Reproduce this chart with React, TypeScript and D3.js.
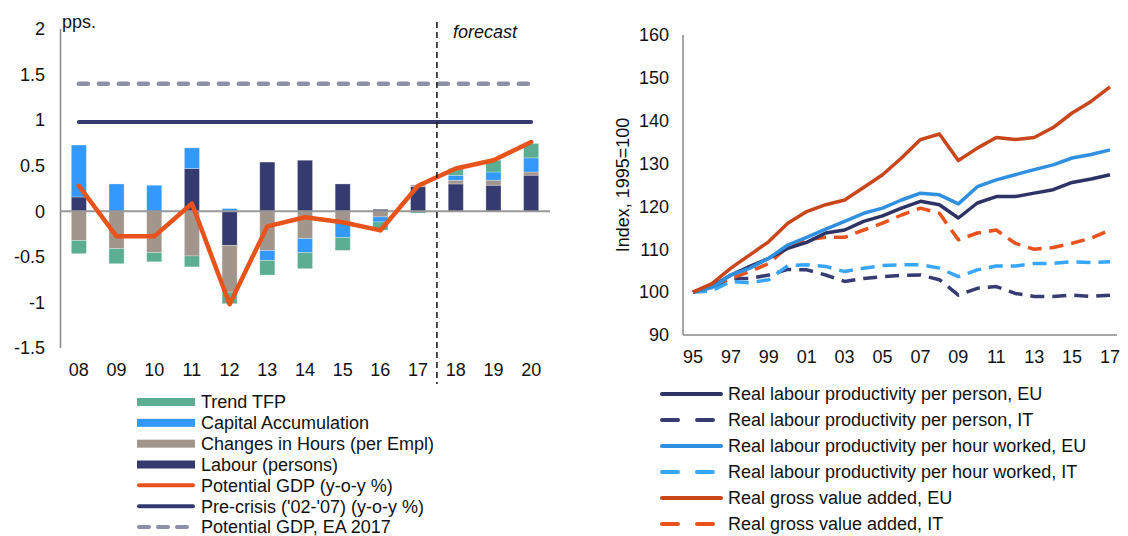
import * as d3 from 'd3'

// ---- left panel: potential growth decomposition (pps.)
const years = ['08', '09', '10', '11', '12', '13', '14', '15', '16', '17', '18', '19', '20']
const trendTFP = [-0.145, -0.165, -0.1, -0.12, -0.127, -0.16, -0.176, -0.14, -0.09, -0.02, 0.074, 0.13, 0.158]
const capitalAcc = [0.57, 0.3, 0.286, 0.226, 0.03, -0.11, -0.154, -0.172, -0.055, 0, 0.055, 0.09, 0.155]
const hoursPerEmpl = [-0.32, -0.41, -0.454, -0.49, -0.513, -0.43, -0.3, -0.117, -0.062, 0.02, 0.04, 0.055, 0.035]
const labourPersons = [0.157, 0, 0, 0.47, -0.374, 0.54, 0.56, 0.3, 0.022, 0.27, 0.3, 0.286, 0.396]
const potentialGDP = [0.28, -0.275, -0.275, 0.085, -1.02, -0.165, -0.065, -0.12, -0.21, 0.28, 0.47, 0.56, 0.76]
const preCrisis = 0.98
const potentialEA2017 = 1.4
const leftTicks = [2, 1.5, 1, 0.5, 0, -0.5, -1, -1.5]

// ---- right panel: index 1995=100
const idxYears = ['95', '96', '97', '98', '99', '00', '01', '02', '03', '04', '05', '06', '07', '08', '09', '10', '11', '12', '13', '14', '15', '16', '17']
const perPersonEU = [100, 101.3, 104, 106, 107.9, 110.2, 111.6, 113.8, 114.5, 116.5, 117.8, 119.6, 121.2, 120.4, 117.3, 120.8, 122.3, 122.3, 123.1, 123.9, 125.6, 126.4, 127.4]
const perPersonIT = [100, 101, 103.2, 103.2, 104, 105.3, 105.2, 104, 102.5, 103.2, 103.6, 103.9, 104, 102.9, 99.3, 100.9, 101.3, 99.7, 99, 99, 99.3, 99, 99.3]
const perHourEU = [100, 101.1, 104, 105.6, 107.9, 111, 112.8, 114.7, 116.5, 118.4, 119.6, 121.5, 123.1, 122.7, 120.6, 124.6, 126.2, 127.4, 128.6, 129.7, 131.3, 132.1, 133.2]
const perHourIT = [100, 100.3, 102.5, 102.2, 102.9, 106.2, 106.4, 106, 104.8, 105.6, 106.2, 106.4, 106.4, 105.6, 103.6, 105.2, 106.1, 106.1, 106.7, 106.7, 107.1, 106.9, 107.1]
const gvaEU = [100, 102, 105.6, 108.7, 111.8, 116.1, 118.8, 120.4, 121.5, 124.4, 127.4, 131.3, 135.6, 136.9, 130.7, 133.6, 136.1, 135.6, 136.1, 138.4, 141.8, 144.5, 147.9]
const gvaIT = [100, 101.7, 103.2, 104.8, 106.7, 110.6, 112.2, 112.8, 112.8, 114.5, 116.1, 118, 119.6, 118.4, 112.2, 113.8, 114.5, 111.4, 110, 110.4, 111.4, 112.6, 114.5]
const rightTicks = [160, 150, 140, 130, 120, 110, 100, 90]

const FONT = '"Liberation Sans", Arial, sans-serif'
const FS = 18

const COL = {
  tfp: '#5BAE92',
  capital: '#3399FF',
  hours: '#A2958C',
  labour: '#363B6F',
  gdp: '#E8531C',
  ea: '#8C8FA8',
}

const barKeys = ['labour', 'hours', 'capital', 'tfp'] as const
const barColor: Record<string, string> = {
  labour: COL.labour,
  hours: COL.hours,
  capital: COL.capital,
  tfp: COL.tfp,
}

function LeftPanel() {
  const x = d3.scaleBand().domain(years).range([60, 550]).paddingInner(0.6).paddingOuter(0.3)
  const xc = (d: string) => x(d)! + x.bandwidth() / 2
  const y = d3.scaleLinear().domain([-1.5, 2]).range([348, 29])

  const rows = years.map((yr, i) => ({
    year: yr,
    labour: labourPersons[i],
    hours: hoursPerEmpl[i],
    capital: capitalAcc[i],
    tfp: trendTFP[i],
  }))
  const series = d3.stack<any>().keys(barKeys as any).offset(d3.stackOffsetDiverging)(rows)

  const gdpLine = d3.line<number>().x((_, i) => xc(years[i])).y(d => y(d))(potentialGDP)
  const splitX = x(years[10])! - (x.step() - x.bandwidth()) / 2

  return (
    <g>
      {leftTicks.map(t => (
        <text key={t} x={45} y={y(t)} dy="0.35em" textAnchor="end" fontSize={FS} fontFamily={FONT} fill="#111">
          {t}
        </text>
      ))}
      <line x1={60.5} x2={60.5} y1={y(2)} y2={y(-1.5)} stroke="#888" strokeWidth={1.5} />
      <text x={62} y={28} fontSize={FS} fontFamily={FONT} fill="#111">pps.</text>

      {series.map(s => (
        <g key={s.key}>
          {s.map((d, i) => (
            <rect
              key={i}
              x={x(years[i])}
              width={x.bandwidth()}
              y={y(Math.max(d[0], d[1]))}
              height={Math.abs(y(d[0]) - y(d[1]))}
              fill={barColor[s.key]}
              stroke="#fff"
              strokeOpacity={0.35}
              strokeWidth={0.8}
            />
          ))}
        </g>
      ))}

      <line x1={60} x2={550} y1={y(0)} y2={y(0)} stroke="#999" strokeWidth={2} />

      <line x1={xc(years[0])} x2={xc(years[12])} y1={y(potentialEA2017)} y2={y(potentialEA2017)}
        stroke={COL.ea} strokeWidth={4.5} strokeDasharray="9,11" strokeLinecap="round" />
      <line x1={xc(years[0])} x2={xc(years[12])} y1={y(preCrisis)} y2={y(preCrisis)}
        stroke={COL.labour} strokeWidth={4} strokeLinecap="round" />

      <path d={gdpLine!} fill="none" stroke={COL.gdp} strokeWidth={4.5} strokeLinejoin="round" strokeLinecap="round" />

      <line x1={splitX} x2={splitX} y1={22} y2={384} stroke="#111" strokeWidth={1.5} strokeDasharray="6,4" />
      <text x={453} y={38} fontSize={FS} fontStyle="italic" fontFamily={FONT} fill="#111">forecast</text>

      {years.map(yr => (
        <text key={yr} x={xc(yr)} y={376} textAnchor="middle" fontSize={FS} fontFamily={FONT} fill="#111">{yr}</text>
      ))}
    </g>
  )
}

const leftLegend = [
  { label: 'Trend TFP', color: COL.tfp, kind: 'rect' },
  { label: 'Capital Accumulation', color: COL.capital, kind: 'rect' },
  { label: 'Changes in Hours (per Empl)', color: COL.hours, kind: 'rect' },
  { label: 'Labour (persons)', color: COL.labour, kind: 'rect' },
  { label: 'Potential GDP (y-o-y %)', color: COL.gdp, kind: 'line' },
  { label: "Pre-crisis ('02-'07) (y-o-y %)", color: COL.labour, kind: 'line' },
  { label: 'Potential GDP, EA 2017', color: COL.ea, kind: 'dash' },
]

function LeftLegend() {
  const rowY = d3.scaleLinear().domain([0, 6]).range([402, 527])
  return (
    <g>
      {leftLegend.map((l, i) => {
        const cy = rowY(i)
        return (
          <g key={l.label}>
            {l.kind === 'rect' && <rect x={137} y={cy - 4} width={58} height={8} fill={l.color} />}
            {l.kind === 'line' && (
              <line x1={139} x2={193} y1={cy} y2={cy} stroke={l.color} strokeWidth={4} strokeLinecap="round" />
            )}
            {l.kind === 'dash' && (
              <line x1={139} x2={193} y1={cy} y2={cy} stroke={l.color} strokeWidth={4} strokeLinecap="round" strokeDasharray="10,9" />
            )}
            <text x={201} y={cy} dy="0.36em" fontSize={FS} fontFamily={FONT} fill="#111">{l.label}</text>
          </g>
        )
      })}
    </g>
  )
}

const rightSeries = [
  { label: 'Real labour productivity per person, EU', values: perPersonEU, color: '#2E3366', dashed: false },
  { label: 'Real labour productivity per person, IT', values: perPersonIT, color: '#363B72', dashed: true },
  { label: 'Real labour productivity per hour worked, EU', values: perHourEU, color: '#2F8FE0', dashed: false },
  { label: 'Real labour productivity per hour worked, IT', values: perHourIT, color: '#38A5FF', dashed: true },
  { label: 'Real gross value added, EU', values: gvaEU, color: '#C8461A', dashed: false },
  { label: 'Real gross value added, IT', values: gvaIT, color: '#E8521C', dashed: true },
]

function RightPanel() {
  const x = d3.scalePoint().domain(idxYears).range([693, 1110])
  const y = d3.scaleLinear().domain([90, 160]).range([335, 35])
  const line = d3.line<number>().x((_, i) => x(idxYears[i])!).y(d => y(d))
  const drawOrder = [1, 3, 5, 0, 2, 4]

  return (
    <g>
      {rightTicks.map(t => (
        <text key={t} x={669} y={y(t)} dy="0.35em" textAnchor="end" fontSize={FS} fontFamily={FONT} fill="#111">{t}</text>
      ))}
      <text transform={`translate(629,${185}) rotate(-90)`} textAnchor="middle" fontSize={FS} fontFamily={FONT} fill="#111">
        Index, 1995=100
      </text>
      <line x1={683} x2={683} y1={y(160)} y2={y(90)} stroke="#888" strokeWidth={1.5} />
      <line x1={683} x2={1117} y1={y(90)} y2={y(90)} stroke="#888" strokeWidth={1.5} />

      {drawOrder.map(i => {
        const s = rightSeries[i]
        return (
          <path key={s.label} d={line(s.values)!} fill="none" stroke={s.color} strokeWidth={3.5}
            strokeDasharray={s.dashed ? '14,8' : undefined} strokeLinejoin="round" />
        )
      })}

      {idxYears.filter((_, i) => i % 2 === 0).map(yr => (
        <text key={yr} x={x(yr)} y={363} textAnchor="middle" fontSize={FS} fontFamily={FONT} fill="#111">{yr}</text>
      ))}
    </g>
  )
}

function RightLegend() {
  const rowY = d3.scaleLinear().domain([0, 5]).range([394, 524])
  return (
    <g>
      {rightSeries.map((s, i) => {
        const cy = rowY(i)
        return (
          <g key={s.label}>
            <line x1={662} x2={s.dashed ? 717 : 721} y1={cy} y2={cy} stroke={s.color} strokeWidth={4}
              strokeLinecap="round" strokeDasharray={s.dashed ? '16,19' : undefined} />
            <text x={728} y={cy} dy="0.36em" fontSize={FS} fontFamily={FONT} fill="#111">{s.label}</text>
          </g>
        )
      })}
    </g>
  )
}

export default function App() {
  return (
    <div style={{ position: 'absolute', left: 0, top: 0 }}>
      <svg width={1128} height={536} style={{ display: 'block', background: '#fff' }}>
        <LeftPanel />
        <LeftLegend />
        <RightPanel />
        <RightLegend />
      </svg>
    </div>
  )
}
